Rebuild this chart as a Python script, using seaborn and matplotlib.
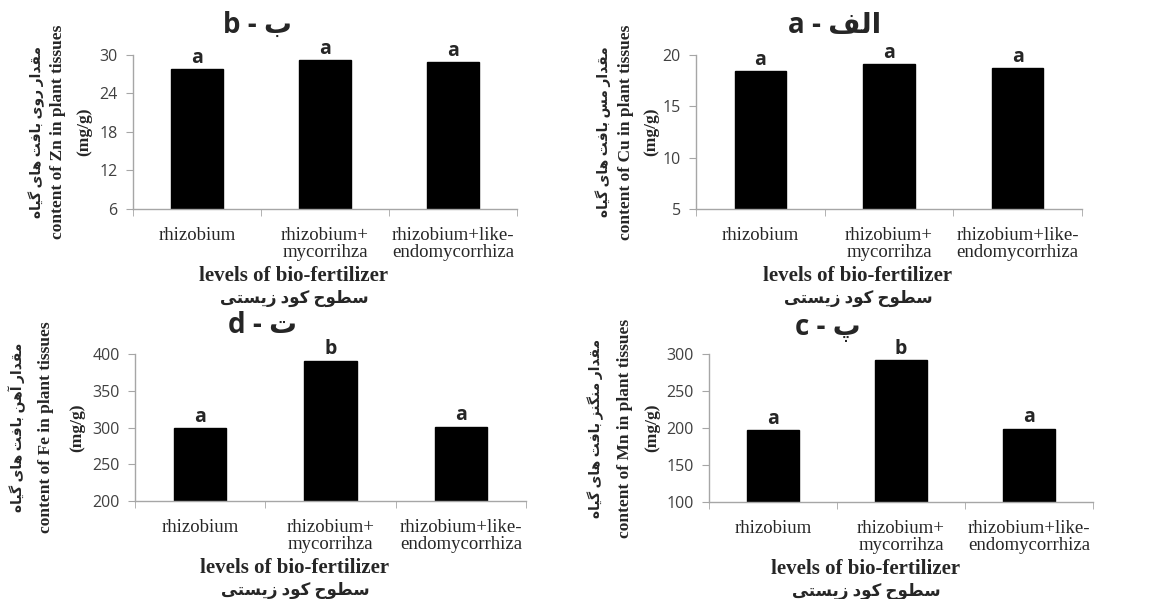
import seaborn as sns
import matplotlib.pyplot as plt
from matplotlib.ticker import FixedLocator

# data
categories = ['rhizobium', 'rhizobium+\nmycorrihza', 'rhizobium+like-\nendomycorrhiza']

zn_values = [27.8, 29.2, 28.9]
zn_letters = ['a', 'a', 'a']
zn_ticks = [6, 12, 18, 24, 30]

cu_values = [18.4, 19.1, 18.7]
cu_letters = ['a', 'a', 'a']
cu_ticks = [5, 10, 15, 20]

fe_values = [299, 391, 301]
fe_letters = ['a', 'b', 'a']
fe_ticks = [200, 250, 300, 350, 400]

mn_values = [197, 292, 199]
mn_letters = ['a', 'b', 'a']
mn_ticks = [100, 150, 200, 250, 300]

# matplotlib has no arabic shaping, so pick presentation forms by hand
FORMS = {
    'ا': ('\uFE8D', '\uFE8E', None, None),
    'آ': ('\uFE81', '\uFE82', None, None),
    'ب': ('\uFE8F', '\uFE90', '\uFE91', '\uFE92'),
    'پ': ('\uFB56', '\uFB57', '\uFB58', '\uFB59'),
    'ت': ('\uFE95', '\uFE96', '\uFE97', '\uFE98'),
    'ح': ('\uFEA1', '\uFEA2', '\uFEA3', '\uFEA4'),
    'د': ('\uFEA9', '\uFEAA', None, None),
    'ر': ('\uFEAD', '\uFEAE', None, None),
    'ز': ('\uFEAF', '\uFEB0', None, None),
    'س': ('\uFEB1', '\uFEB2', '\uFEB3', '\uFEB4'),
    'ط': ('\uFEC1', '\uFEC2', '\uFEC3', '\uFEC4'),
    'ف': ('\uFED1', '\uFED2', '\uFED3', '\uFED4'),
    'ق': ('\uFED5', '\uFED6', '\uFED7', '\uFED8'),
    'ک': ('\uFB8E', '\uFB8F', '\uFB90', '\uFB91'),
    'گ': ('\uFB92', '\uFB93', '\uFB94', '\uFB95'),
    'ل': ('\uFEDD', '\uFEDE', '\uFEDF', '\uFEE0'),
    'م': ('\uFEE1', '\uFEE2', '\uFEE3', '\uFEE4'),
    'ن': ('\uFEE5', '\uFEE6', '\uFEE7', '\uFEE8'),
    'ه': ('\uFEE9', '\uFEEA', '\uFEEB', '\uFEEC'),
    'و': ('\uFEED', '\uFEEE', None, None),
    'ی': ('\uFBFC', '\uFBFD', '\uFBFE', '\uFBFF'),
}


def fa(text):
    out = []
    for i, ch in enumerate(text):
        if ch not in FORMS:
            out.append(ch)
            continue
        prev = text[i - 1] if i > 0 else ''
        nxt = text[i + 1] if i + 1 < len(text) else ''
        join_prev = prev in FORMS and FORMS[prev][2] is not None
        join_next = FORMS[ch][2] is not None and nxt in FORMS
        iso, fin, ini, med = FORMS[ch]
        if join_prev and join_next:
            out.append(med)
        elif join_prev:
            out.append(fin)
        elif join_next:
            out.append(ini)
        else:
            out.append(iso)
    return ''.join(reversed(out))


sns.set_style('white')
plt.rcParams['font.family'] = ['Liberation Serif', 'DejaVu Sans']

W, H = 1153, 599
fig = plt.figure(figsize=(W / 100, H / 100), dpi=100)

SERIF = ['Liberation Serif', 'DejaVu Sans']
SANS = ['Open Sans', 'DejaVu Sans']
GRAY = '#a6a6a6'

# (values, letters, ticks, axes box in px (l, t, r, b), title, title xy, ylabel lines, ylabel x's, xlabel x)
panels = [
    (zn_values, zn_letters, zn_ticks, (133, 55, 517, 209), 'b - ' + fa('ب'), (257, 25),
     fa('مقدار روی بافت های گیاه'), 'content of Zn in plant tissues', (37, 58, 84), 294),
    (cu_values, cu_letters, cu_ticks, (696, 55, 1082, 209), 'a - ' + fa('الف'), (835, 25),
     fa('مقدار مس بافت های گیاه'), 'content of Cu in plant tissues', (603, 626, 651), 858),
    (fe_values, fe_letters, fe_ticks, (135, 354, 526, 501), 'd - ' + fa('ت'), (263, 325),
     fa('مقدار آهن بافت های گیاه'), 'content of Fe in plant tissues', (17, 46, 77), 295),
    (mn_values, mn_letters, mn_ticks, (709, 354, 1093, 502), 'c - ' + fa('پ'), (828, 327),
     fa('مقدار منگنز بافت های گیاه'), 'content of Mn in plant tissues', (596, 625, 652), 866),
]

for values, letters, ticks, box, title, tpos, fa_ylab, en_ylab, ylx, xlx in panels:
    l, t, r, b = box
    ax = fig.add_axes([l / W, 1 - b / H, (r - l) / W, (b - t) / H])
    sns.barplot(x=categories, y=values, ax=ax, color='black', width=0.4,
                saturation=1, edgecolor='black')
    ax.set_ylim(ticks[0], ticks[-1])
    ax.set_xlim(-0.5, 2.5)
    ax.set_yticks(ticks)
    ax.set_yticklabels([str(v) for v in ticks], fontfamily=SANS, fontsize=11.5, color='#404040')
    ax.set_xticks(range(len(categories)))
    ax.set_xticklabels(categories, fontfamily=SERIF, fontsize=13.5, color='#262626',
                       linespacing=1.0)
    ax.xaxis.set_minor_locator(FixedLocator([-0.5, 0.5, 1.5, 2.5]))
    ax.tick_params(axis='x', which='major', length=0, pad=13)
    ax.tick_params(axis='x', which='minor', length=5, color=GRAY, direction='out', bottom=True)
    ax.tick_params(axis='y', length=5, color=GRAY, direction='out', left=True, pad=6)
    for s in ['top', 'right']:
        ax.spines[s].set_visible(False)
    for s in ['left', 'bottom']:
        ax.spines[s].set_color(GRAY)
        ax.spines[s].set_linewidth(1)
    ax.set_xlabel('')
    ax.set_ylabel('')

    for i, (v, letter) in enumerate(zip(values, letters)):
        ax.annotate(letter, (i, v), xytext=(0, 1), textcoords='offset points',
                    ha='center', va='bottom', fontsize=14, fontweight='bold',
                    fontfamily=SANS, annotation_clip=False)

    cy = 1 - (t + b) / 2 / H
    fig.text(ylx[0] / W, cy, fa_ylab, rotation=90, ha='center', va='center',
             fontsize=10, fontfamily=SERIF, fontweight='bold')
    fig.text(ylx[1] / W, cy, en_ylab, rotation=90, ha='center', va='center',
             fontsize=12.5, fontfamily=SERIF, fontweight='bold')
    fig.text(ylx[2] / W, cy, '(mg/g)', rotation=90, ha='center', va='center',
             fontsize=12.5, fontfamily=SERIF, fontweight='bold')

    fig.text(tpos[0] / W, 1 - tpos[1] / H, title, ha='center', va='center',
             fontsize=20, fontweight='bold', fontfamily=SANS)
    fig.text(xlx / W, 1 - (b + 67) / H, 'levels of bio-fertilizer', ha='center', va='center',
             fontsize=15, fontweight='bold', fontfamily=SERIF)
    fig.text(xlx / W, 1 - (b + 94) / H, fa('سطوح کود زیستی'), ha='center', va='baseline',
             fontsize=12, fontfamily=SERIF, fontweight='bold')

fig.savefig('out.png', dpi=100)
